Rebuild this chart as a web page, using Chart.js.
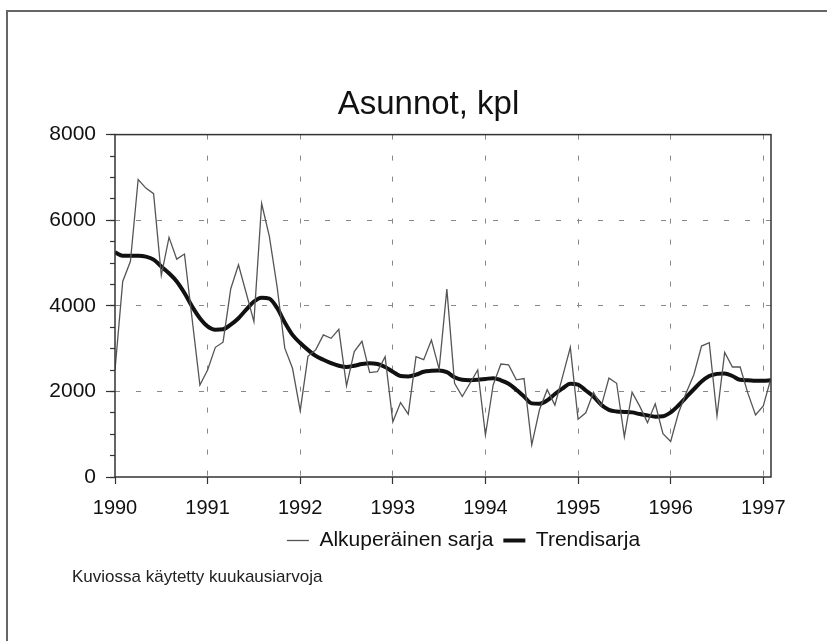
<!DOCTYPE html>
<html>
<head>
<meta charset="utf-8">
<script src="https://cdn.jsdelivr.net/npm/chart.js@4/dist/chart.umd.min.js"></script>
<style>
  html, body { margin: 0; padding: 0; background: #fff; }
  #wrap { position: relative; width: 827px; height: 641px; overflow: hidden; background: #fff; }
  #frame { position: absolute; left: 6px; top: 10px; width: 840px; height: 660px; border-top: 2px solid #666; border-left: 2px solid #666; }
  #c { position: absolute; left: 0; top: 0; }
  #note { position: absolute; left: 72px; top: 567px; font: 17px "Liberation Sans", Arial, sans-serif; color: #222; white-space: nowrap; }
</style>
</head>
<body>
<div id="wrap">
  <div id="frame"></div>
  <canvas id="c" width="827" height="641"></canvas>
  <div id="note">Kuviossa käytetty kuukausiarvoja</div>
</div>
<script>
// Monthly values, January 1990 – February 1997
const yearLabels = ['1990', '1991', '1992', '1993', '1994', '1995', '1996', '1997'];

const original = [
  2500, 4570, 5040, 6950, 6750, 6620, 4710, 5600, 5090, 5210, 3680, 2150,
  2500, 3030, 3150, 4400, 4960, 4300, 3630, 6390, 5620, 4450, 3010, 2540,
  1550, 2820, 2970, 3320, 3240, 3450, 2130, 2930, 3170, 2440, 2460, 2810,
  1290, 1740, 1470, 2810, 2740, 3200, 2520, 4390, 2190, 1880, 2190, 2500,
  980, 2150, 2640, 2620, 2270, 2300, 750, 1570, 2040, 1680, 2350, 3030,
  1350, 1500, 1980, 1650, 2310, 2190, 940, 1980, 1650, 1270, 1710, 1010,
  830, 1490, 1960, 2390, 3060, 3140, 1430, 2910, 2570, 2570, 1960, 1450,
  1660, 2310
];

const trend = [
  5250, 5170, 5170, 5170, 5150, 5080, 4920, 4760, 4570, 4300, 3980, 3710,
  3520, 3440, 3450, 3560, 3710, 3910, 4100, 4190, 4170, 3950, 3610, 3320,
  3130, 2970, 2830, 2740, 2660, 2600, 2570, 2600, 2640, 2660, 2640, 2570,
  2460, 2360, 2350, 2390, 2460, 2480, 2490, 2450, 2330, 2270, 2260, 2270,
  2290, 2310, 2260, 2180, 2040, 1880, 1720, 1710, 1790, 1940, 2070, 2180,
  2160, 2020, 1880, 1690, 1570, 1530, 1520, 1510, 1470, 1440, 1410, 1420,
  1510, 1670, 1860, 2050, 2230, 2360, 2410, 2420, 2360, 2270, 2260, 2250,
  2250, 2260
];

const seriesNames = ['Alkuperäinen sarja', 'Trendisarja'];
const titleText = 'Asunnot, kpl';

const FONT = '"Liberation Sans", Arial, Helvetica, sans-serif';
Chart.defaults.font.family = FONT;
Chart.defaults.color = '#111';

const TITLE_SHIFT = 39;
const LEGEND_SHIFT = 74;

const frameBox = {
  id: 'frameBox',
  afterLayout(chart) {
    const t = chart.titleBlock, l = chart.legend;
    if (t) { t.left += TITLE_SHIFT; t.right += TITLE_SHIFT; }
    if (l) { l.left += LEGEND_SHIFT; l.right += LEGEND_SHIFT; }
  },
  afterDatasetsDraw(chart) {
    const a = chart.chartArea, ctx = chart.ctx;
    ctx.save();
    ctx.strokeStyle = '#333';
    ctx.lineWidth = 1.5;
    ctx.strokeRect(a.left, a.top, a.right - a.left, a.bottom - a.top);
    ctx.restore();
  }
};

new Chart(document.getElementById('c'), {
  type: 'line',
  data: {
    datasets: [
      {
        label: seriesNames[0],
        data: original.map((v, i) => ({ x: i, y: v })),
        borderColor: '#555',
        borderWidth: 1.3,
        pointRadius: 0,
        tension: 0,
        fill: false
      },
      {
        label: seriesNames[1],
        data: trend.map((v, i) => ({ x: i, y: v })),
        borderColor: '#111',
        borderWidth: 4,
        pointRadius: 0,
        tension: 0.4,
        cubicInterpolationMode: 'monotone',
        fill: false
      }
    ]
  },
  options: {
    responsive: false,
    animation: false,
    devicePixelRatio: 1,
    layout: { padding: { left: 8, right: 56, top: 10, bottom: 80 } },
    plugins: {
      title: {
        display: true,
        text: titleText,
        font: { size: 33, weight: 'normal' },
        color: '#111',
        padding: { top: 75, bottom: 10 }
      },
      legend: {
        position: 'bottom',
        labels: {
          usePointStyle: true,
          pointStyle: 'line',
          pointStyleWidth: 22,
          font: { size: 21 },
          color: '#111',
          padding: 10
        }
      },
      tooltip: { enabled: false }
    },
    scales: {
      x: {
        type: 'linear',
        min: 0,
        max: original.length - 1,
        afterBuildTicks: s => { s.ticks = yearLabels.map((_, i) => ({ value: i * 12 })); },
        afterFit: s => { s.height = 43; },
        ticks: {
          callback: v => yearLabels[Math.round(v / 12)],
          font: { size: 20 },
          color: '#111',
          padding: 12,
          maxRotation: 0,
          autoSkip: false
        },
        grid: {
          color: ctx => (ctx.tick && ctx.tick.value === 0) ? 'rgba(0,0,0,0)' : '#888',
          lineWidth: 1,
          tickColor: '#333',
          tickLength: 7,
          tickWidth: 1.2
        },
        border: { display: false, dash: [5, 16] }
      },
      y: {
        min: 0,
        max: 8000,
        position: 'left',
        weight: 1,
        afterFit: s => { s.width = 107; },
        ticks: { stepSize: 2000, font: { size: 21 }, color: '#111', padding: 10, callback: v => String(v) },
        grid: {
          color: ctx => (ctx.tick && ctx.tick.value > 0 && ctx.tick.value < 8000) ? '#888' : 'rgba(0,0,0,0)',
          lineWidth: 1,
          tickColor: '#333',
          tickLength: 9,
          tickWidth: 1.2
        },
        border: { display: false, dash: [5, 16] }
      },
      y2: {
        min: 0,
        max: 8000,
        position: 'left',
        weight: 0,
        afterFit: s => { s.width = 0; },
        ticks: { stepSize: 500, display: false },
        grid: { drawOnChartArea: false, tickColor: '#333', tickLength: 5, tickWidth: 1.2 },
        border: { display: false }
      }
    }
  },
  plugins: [frameBox]
});
</script>
</body>
</html>
